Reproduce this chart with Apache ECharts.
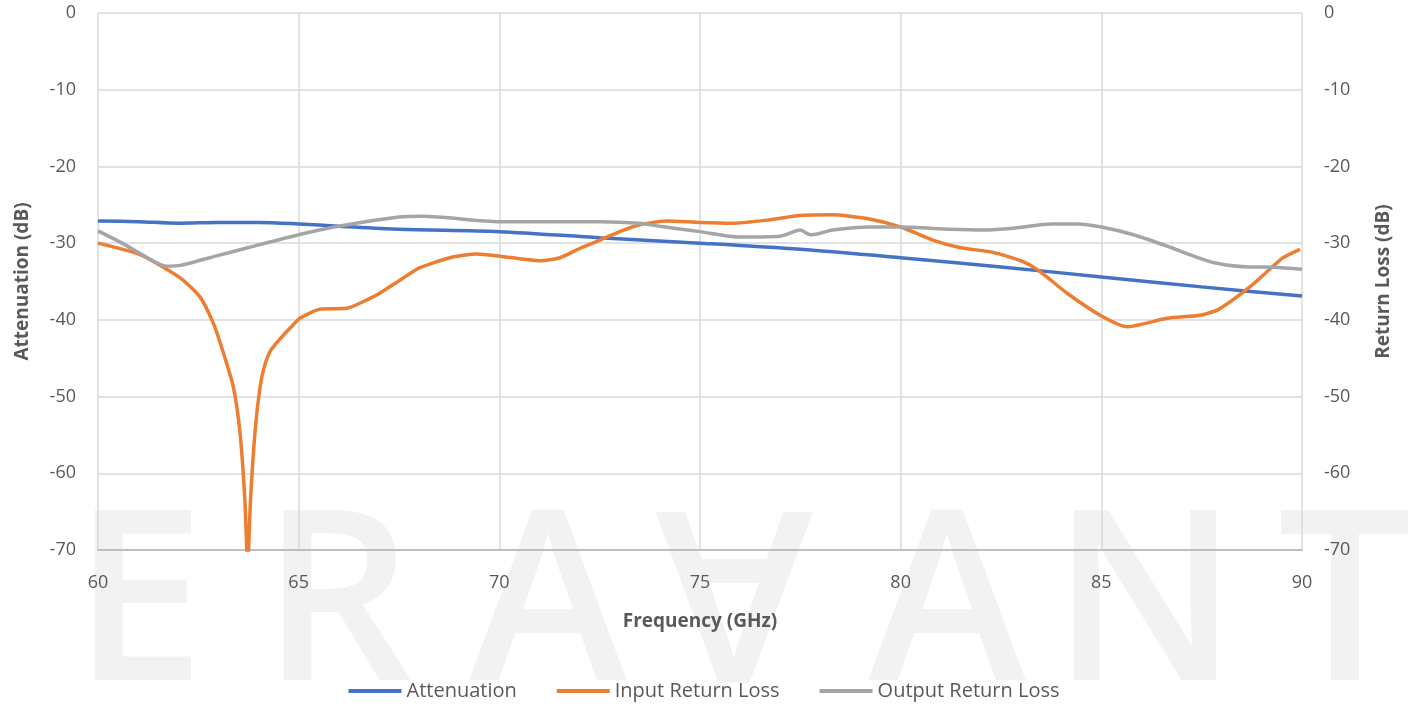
<!DOCTYPE html>
<html>
<head>
<meta charset="utf-8">
<script src="https://cdn.jsdelivr.net/npm/echarts@6/dist/echarts.min.js"></script>
<style>
html,body{margin:0;padding:0;background:#fff;}
#chart{width:1408px;height:706px;}
</style>
</head>
<body>
<div id="chart"></div>
<script>
// 读图得到的数据 (频率 GHz, dB)
const attFreq = [60, 61, 62, 63, 64, 65, 66, 67.5, 70, 72.5, 75, 77.5, 80, 82.5, 85, 87.5, 90];
const attVals = [-27.1, -27.2, -27.4, -27.3, -27.3, -27.5, -27.8, -28.2, -28.5, -29.3, -30.0, -30.8, -31.9, -33.1, -34.4, -35.7, -36.9];

const inFreq = [60, 61.05, 62.04, 62.54, 62.87, 63.1, 63.37, 63.54, 63.66, 63.73, 63.8, 63.91, 64.04, 64.15, 64.3, 64.55, 64.8, 65.03, 65.53, 66.2, 66.7, 67.03, 67.53, 68.02, 68.77, 69.44, 70.02, 71.01, 71.51, 72.0, 72.51, 73.0, 73.5, 74.18, 75.0, 75.82, 76.67, 77.49, 78.3, 79.16, 80.0, 80.8, 81.5, 82.3, 83.05, 83.47, 84.14, 84.97, 85.64, 86.64, 87.46, 87.9, 88.7, 89.53, 89.95];
const inVals = [-30.0, -31.5, -34.5, -37.0, -40.4, -43.9, -48.7, -54.8, -63.5, -72, -63.5, -54.8, -48.7, -46.0, -44.0, -42.4, -41.0, -39.8, -38.6, -38.5, -37.4, -36.5, -34.8, -33.2, -31.9, -31.4, -31.7, -32.3, -31.9, -30.7, -29.6, -28.5, -27.6, -27.1, -27.3, -27.4, -27.0, -26.4, -26.3, -26.8, -27.9, -29.6, -30.6, -31.2, -32.4, -33.7, -36.5, -39.4, -40.9, -39.8, -39.4, -38.7, -35.7, -31.9, -30.8];

const outFreq = [60, 60.6, 61.2, 61.7, 62.05, 63, 63.8, 65, 66, 67.5, 68.1, 70, 72.5, 73.5, 74, 75, 76, 77, 77.5, 77.75, 78, 78.3, 79.2, 80, 81.25, 82.1, 82.9, 83.75, 84.4, 85, 85.8, 86.7, 87.2, 87.85, 88.7, 89.1, 90];
const outVals = [-28.4, -30.0, -31.8, -33.0, -32.9, -31.6, -30.5, -28.9, -27.8, -26.6, -26.5, -27.2, -27.2, -27.4, -27.8, -28.5, -29.2, -29.1, -28.3, -28.9, -28.7, -28.3, -27.9, -27.9, -28.2, -28.3, -28.0, -27.5, -27.5, -27.9, -28.9, -30.5, -31.5, -32.6, -33.1, -33.1, -33.4];

const xTicks = {min: 60, max: 90, step: 5};
const yTicks = {min: -70, max: 0, step: 10};

const watermark = ['E', 'R', 'A', 'A', 'A', 'N', 'T'];

const pairs = (xs, ys) => xs.map((x, i) => [x, ys[i]]);

const labelColor = '#595959';
const font = '"Open Sans", "Noto Sans", sans-serif';

const chart = echarts.init(document.getElementById('chart'));

// 水印字母的位置, 第4个字母倒过来
const wmX = [139, 337, 548, 734, 947, 1145, 1345];
const wmY = 612;
const wmGraphics = watermark.map((ch, i) => ({
    type: 'text',
    x: wmX[i],
    y: i === 3 ? wmY - 32 : wmY,
    rotation: i === 3 ? Math.PI : 0,
    z: -10,
    silent: true,
    style: {
        text: ch,
        fill: '#f2f2f2',
        font: '600 238px ' + font,
        align: 'center',
        verticalAlign: 'middle'
    }
}));

function yAxisCfg(name, pos, gap) {
    return {
        type: 'value',
        position: pos,
        min: yTicks.min,
        max: yTicks.max,
        interval: yTicks.step,
        name: name,
        nameLocation: 'middle',
        nameGap: gap,
        nameTextStyle: {color: labelColor, fontSize: 19, fontWeight: 'bold', fontFamily: font},
        axisLine: {show: false},
        axisTick: {show: false},
        axisLabel: {color: labelColor, fontSize: 18, fontFamily: font, margin: 22},
        splitLine: {show: pos === 'left', lineStyle: {color: '#d9d9d9', width: 1.5}}
    };
}

function lineSeries(name, axis, data, color, smooth) {
    return {
        name: name, type: 'line', yAxisIndex: axis, showSymbol: false,
        smooth: smooth,
        data: data,
        itemStyle: {color: color}, lineStyle: {color: color, width: 3.5}
    };
}

const option = {
    animation: false,
    backgroundColor: '#fff',
    graphic: wmGraphics,
    grid: {left: 98, right: 106, top: 13, bottom: 156},
    legend: {
        bottom: 0,
        left: 'center',
        icon: 'rect',
        itemWidth: 53,
        itemHeight: 4,
        itemGap: 40,
        textStyle: {color: labelColor, fontSize: 20, fontFamily: font},
        data: ['Attenuation', 'Input Return Loss', 'Output Return Loss']
    },
    xAxis: {
        type: 'value',
        min: xTicks.min,
        max: xTicks.max,
        interval: xTicks.step,
        name: 'Frequency (GHz)',
        nameLocation: 'middle',
        nameGap: 62,
        nameTextStyle: {color: labelColor, fontSize: 19, fontWeight: 'bold', fontFamily: font},
        axisLine: {show: true, onZero: false, lineStyle: {color: '#bfbfbf', width: 2}},
        axisTick: {show: false},
        axisLabel: {color: labelColor, fontSize: 18, fontFamily: font, margin: 24},
        splitLine: {show: true, lineStyle: {color: '#d9d9d9', width: 1.5}}
    },
    yAxis: [yAxisCfg('Attenuation (dB)', 'left', 66), yAxisCfg('Return Loss (dB)', 'right', 72)],
    series: [
        lineSeries('Attenuation', 0, pairs(attFreq, attVals), '#4472C4', 0.3),
        lineSeries('Input Return Loss', 1, pairs(inFreq, inVals), '#ED7D31', 0.2),
        lineSeries('Output Return Loss', 1, pairs(outFreq, outVals), '#A5A5A5', 0.25)
    ]
};
chart.setOption(option);
window.addEventListener('resize', () => chart.resize());
</script>
</body>
</html>
